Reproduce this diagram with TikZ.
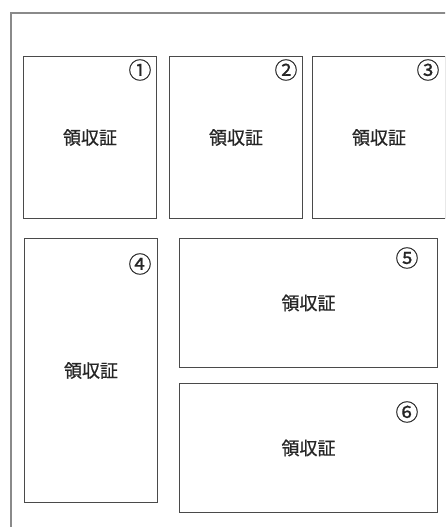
\documentclass[tikz,border=0pt]{standalone}
\usepackage{fontspec}
\newfontfamily\jpfont{Noto Sans CJK JP}[FakeBold=0.8]
\newfontfamily\numfont{Noto Sans CJK JP}[FakeBold=0.6]
\usepackage{tikz}
\usetikzlibrary{positioning}
\definecolor{framegray}{HTML}{8A8A8A}
\definecolor{boxgray}{HTML}{4A4A4A}

\begin{document}
\begin{tikzpicture}[
  x=1pt, y=-1pt,
  receipt/.style = {draw=boxgray, line width=1pt, anchor=north west,
                    inner sep=0pt, align=center, text=black!85,
                    font=\jpfont\fontsize{18}{20}\selectfont},
  tall/.style    = {receipt, minimum width=133pt, minimum height=162pt},
  long/.style    = {receipt, minimum width=133pt, minimum height=264pt},
  wide/.style    = {receipt, minimum width=258pt, minimum height=129pt},
  num/.style     = {font=\numfont\fontsize{23}{24}\selectfont, text=black!85,
                    inner sep=0pt}
]
\useasboundingbox (0,0) rectangle (445,527);
\clip (0,0) rectangle (445,527);

% outer sheet
\draw[framegray, line width=1.2pt] (11,540) -- (11,13) -- (460,13);

% receipts
\node[tall] (r1) at (23,56)  {領収証};
\node[tall] (r2) at (169,56) {領収証};
\node[tall] (r3) at (312,56) {領収証};
\node[long] (r4) at (24,238) {領収証};
\node[wide] (r5) at (179,238) {領収証};
\node[wide] (r6) at (179,383) {領収証};

% numbers
\node[num] (n1) at (140,70)  {①};
\node[num] (n2) at (286,70)  {②};
\node[num] (n3) at (428,70)  {③};
\node[num] (n4) at (140,264) {④};
\node[num] (n5) at (407,258) {⑤};
\node[num] (n6) at (407,412) {⑥};
\end{tikzpicture}
\end{document}
